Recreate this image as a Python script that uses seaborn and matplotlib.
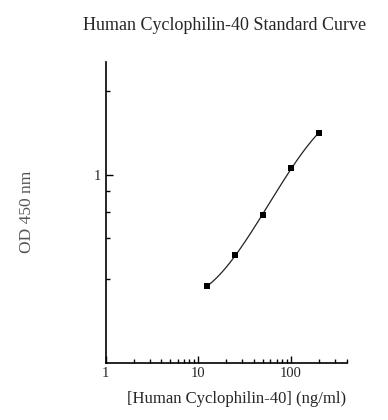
import numpy as np
import pandas as pd
import matplotlib
matplotlib.use('Agg')
import matplotlib.pyplot as plt
import matplotlib.ticker as mticker
import seaborn as sns

# standard curve readings
concentration = [12.5, 25, 50, 100, 200]
od450 = [0.256, 0.375, 0.617, 1.086, 1.68]

y_minor_ticks = [0.28, 0.46, 0.64, 0.82, 2.8]

df = pd.DataFrame({'conc': concentration, 'od': od450})

# smooth curve through the standards (cubic in log-log space)
lx = np.log10(df['conc'])
ly = np.log10(df['od'])
coef = np.polyfit(lx, ly, 3)
xs = np.linspace(lx.min(), lx.max(), 200)
curve = pd.DataFrame({'conc': 10 ** xs, 'od': 10 ** np.polyval(coef, xs)})

sns.set_style('white')
plt.rcParams['font.family'] = ['Liberation Serif', 'DejaVu Serif']

fig = plt.figure(figsize=(3.88, 4.20), dpi=100)
ax = fig.add_axes([0.2724, 0.1364, 0.6211, 0.7152])

sns.lineplot(data=curve, x='conc', y='od', ax=ax, color='#222222', linewidth=0.9)
sns.scatterplot(data=df, x='conc', y='od', ax=ax, marker='s', color='black',
                s=22, linewidth=0, zorder=3)

ax.set_xscale('log')
ax.set_yscale('log')
ax.set_xlim(1, 400)
ax.set_ylim(0.1, 4)

ax.xaxis.set_major_locator(mticker.FixedLocator([1, 10, 100]))
ax.xaxis.set_major_formatter(mticker.FixedFormatter(['1', '10', '100']))
ax.xaxis.set_minor_locator(mticker.LogLocator(base=10, subs=np.arange(2, 10), numticks=20))
ax.xaxis.set_minor_formatter(mticker.NullFormatter())

ax.yaxis.set_major_locator(mticker.FixedLocator([1]))
ax.yaxis.set_major_formatter(mticker.FixedFormatter(['1']))
ax.yaxis.set_minor_locator(mticker.FixedLocator(y_minor_ticks))
ax.yaxis.set_minor_formatter(mticker.NullFormatter())

ax.tick_params(which='both', direction='in', color='black', width=1)
ax.tick_params(which='major', length=5, labelsize=10.5, pad=3)
ax.tick_params(which='minor', length=3)
ax.tick_params(axis='x', which='both', bottom=True)
ax.tick_params(axis='y', which='both', left=True)

sns.despine(ax=ax)
for s in ['left', 'bottom']:
    ax.spines[s].set_color('black')
    ax.spines[s].set_linewidth(1.2)

ax.set_xlabel('')
ax.set_ylabel('')
fig.text(237 / 388, 1 - 399 / 420, '[Human Cyclophilin-40] (ng/ml)', fontsize=12,
         ha='center', va='center')
fig.text(27 / 388, 1 - 212 / 420, 'OD 450 nm', fontsize=12.5, color='#555555',
         rotation=90, ha='center', va='center')
fig.text(225 / 388, 1 - 25 / 420, 'Human Cyclophilin-40 Standard Curve', fontsize=13,
         ha='center', va='center')

fig.savefig('out.png', dpi=100, facecolor='white')
